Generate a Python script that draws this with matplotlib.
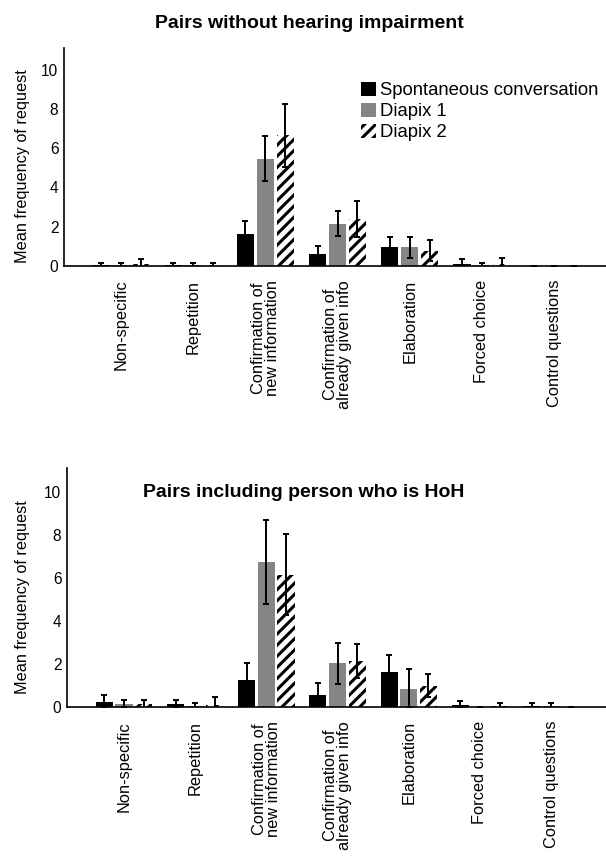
import numpy as np
import matplotlib.pyplot as plt

plt.rcParams['font.family'] = ['Liberation Sans', 'DejaVu Sans']
plt.rcParams['hatch.linewidth'] = 2.2

categories = ['Non-specific', 'Repetition', 'Confirmation of\nnew information',
              'Confirmation of\nalready given info', 'Elaboration', 'Forced choice',
              'Control questions']
series = ['Spontaneous conversation', 'Diapix 1', 'Diapix 2']

# pairs without hearing impairment
nh_spont = [0.03, 0.03, 1.61, 0.63, 0.99, 0.12, 0.0]
nh_spont_err = [0.12, 0.12, 0.68, 0.38, 0.50, 0.22, 0.0]
nh_d1 = [0.03, 0.03, 5.46, 2.16, 0.94, 0.03, 0.0]
nh_d1_err = [0.12, 0.12, 1.15, 0.62, 0.52, 0.12, 0.0]
nh_d2 = [0.10, 0.03, 6.66, 2.38, 0.77, 0.10, 0.0]
nh_d2_err = [0.24, 0.12, 1.60, 0.92, 0.53, 0.31, 0.0]

# pairs including person who is HoH
hoh_spont = [0.25, 0.16, 1.27, 0.57, 1.63, 0.10, 0.06]
hoh_spont_err = [0.29, 0.15, 0.79, 0.53, 0.80, 0.16, 0.13]
hoh_d1 = [0.16, 0.06, 6.74, 2.03, 0.85, 0.02, 0.06]
hoh_d1_err = [0.15, 0.13, 1.94, 0.96, 0.90, 0.0, 0.13]
hoh_d2 = [0.12, 0.10, 6.16, 2.16, 0.99, 0.05, 0.02]
hoh_d2_err = [0.19, 0.35, 1.90, 0.79, 0.54, 0.14, 0.0]

x = np.arange(len(categories))
w = 0.24
off = 0.276
styles = [dict(color='black'),
          dict(color='#858585'),
          dict(color='white', edgecolor='black', linewidth=0, hatch='///')]


def panel(ax, vals, errs, xlim, labx):
    for i, (v, e) in enumerate(zip(vals, errs)):
        ax.bar(x + (i - 1) * off, v, w, label=series[i], **styles[i])
        ax.errorbar(x + (i - 1) * off, v, yerr=e, fmt='none', ecolor='black',
                    elinewidth=1.4, capsize=2.5, capthick=1.4)
    ax.set_xlim(*xlim)
    ax.set_ylim(0, 11.1)
    ax.set_yticks([0, 2, 4, 6, 8, 10])
    ax.set_xticks(x)
    ax.set_xticklabels(categories, rotation=90, va='top', ha='center',
                       multialignment='center', linespacing=0.95)
    ax.tick_params(axis='both', length=0)
    ax.tick_params(axis='x', pad=10, labelsize=11.8)
    ax.tick_params(axis='y', pad=4, labelsize=11.2)
    ax.set_ylabel('Mean frequency of request', fontsize=11.7)
    ax.yaxis.set_label_coords(labx, 0.46)
    for s in ['top', 'right']:
        ax.spines[s].set_visible(False)
    ax.spines['left'].set_linewidth(1.2)
    ax.spines['bottom'].set_linewidth(1.2)


fig = plt.figure(figsize=(6.06, 8.56), dpi=100)
ax1 = fig.add_axes([0.1056, 0.6893, 0.8944, 0.2547])
panel(ax1, [nh_spont, nh_d1, nh_d2], [nh_spont_err, nh_d1_err, nh_d2_err],
      (-0.79, 6.72), -0.063)
ax1.legend(loc='upper left', bbox_to_anchor=(0.548, 0.845), frameon=False,
           fontsize=13.3, handlelength=0.82, handleheight=0.82, handletextpad=0.2,
           labelspacing=0.18, borderaxespad=0, borderpad=0)
fig.text(0.51, 0.973, 'Pairs without hearing impairment', ha='center',
         va='center', fontsize=14, fontweight='bold')

ax2 = fig.add_axes([0.1106, 0.174, 0.8894, 0.279])
panel(ax2, [hoh_spont, hoh_d1, hoh_d2], [hoh_spont_err, hoh_d1_err, hoh_d2_err],
      (-0.8, 6.77), -0.069)
ax2.text(0.44, 0.9, 'Pairs including person who is HoH', transform=ax2.transAxes,
         ha='center', va='center', fontsize=14, fontweight='bold')

fig.savefig('out.png', dpi=100)
